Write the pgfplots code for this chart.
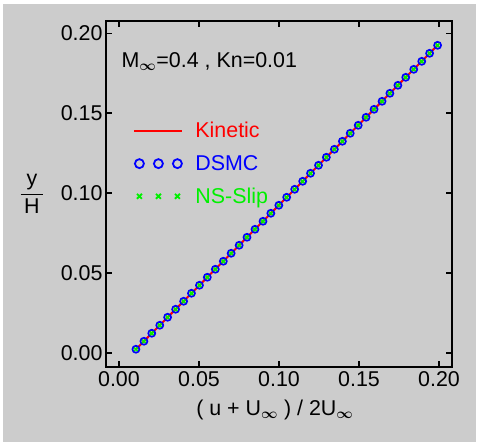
\documentclass[border=0pt]{standalone}
\usepackage{amsmath}
\usepackage{pgfplots}
\pgfplotsset{compat=1.18}
\usepackage{fontspec}
\setmainfont{Liberation Sans}
\definecolor{bggray}{RGB}{204,204,204}
\definecolor{kinred}{RGB}{255,0,0}
\definecolor{dsmcblue}{RGB}{0,0,255}
\definecolor{nsgreen}{RGB}{0,240,0}

\pgfplotsset{
  longline/.style={legend image code/.code={\draw[##1] (0bp,0bp) -- (48bp,0bp);}},
  threemarks/.style={legend image code/.code={\draw[##1] plot coordinates {(5bp,0bp) (24bp,0bp) (43bp,0bp)};}},
}

\pgfplotstableread{
x y
0.0106 0.0025
0.0156 0.0075
0.0205 0.0125
0.0255 0.0175
0.0304 0.0225
0.0354 0.0275
0.0404 0.0325
0.0453 0.0375
0.0503 0.0425
0.0552 0.0475
0.0602 0.0525
0.0652 0.0575
0.0701 0.0625
0.0751 0.0675
0.0800 0.0725
0.0850 0.0775
0.0900 0.0825
0.0949 0.0875
0.0999 0.0925
0.1048 0.0975
0.1098 0.1025
0.1148 0.1075
0.1197 0.1125
0.1247 0.1175
0.1296 0.1225
0.1346 0.1275
0.1396 0.1325
0.1445 0.1375
0.1495 0.1425
0.1544 0.1475
0.1594 0.1525
0.1644 0.1575
0.1693 0.1625
0.1743 0.1675
0.1792 0.1725
0.1842 0.1775
0.1892 0.1825
0.1941 0.1875
0.1991 0.1925
}\profile

\newcommand{\uinf}{\textsubscript{\boldmath$\infty$}}
\newcommand{\bigfont}{\fontsize{21.5}{25}\selectfont}
\newcommand{\tl}[1]{\mbox{\bigfont #1}}

\begin{document}
\begin{tikzpicture}
\fill[white] (0bp,0bp) rectangle (479bp,444bp);
\fill[bggray] (3bp,2bp) rectangle (476bp,440bp);
\useasboundingbox (0bp,0bp) rectangle (479bp,444bp);
\begin{axis}[
  at={(106bp,77bp)}, anchor=south west,
  scale only axis,
  width=346bp, height=346bp,
  font=\bigfont,
  tick label style={font=\bigfont},
  axis line style={line width=2bp},
  tick style={line width=1.6bp, black},
  tick align=inside,
  major tick length=6bp,
  xmin=-0.0081, xmax=0.2081,
  ymin=-0.0086, ymax=0.2077,
  xtick={0,0.05,0.10,0.15,0.20},
  ytick={0,0.05,0.10,0.15,0.20},
  xticklabels={\tl{0.00},\tl{0.05},\tl{0.10},\tl{0.15},\tl{0.20}},
  yticklabels={\tl{0.00},\tl{0.05},\tl{0.10},\tl{0.15},\tl{0.20}},
  xticklabel style={yshift=-1bp},
  xlabel={( u + U\uinf\ ) / 2U\uinf},
  xlabel style={at={(axis description cs:0.488,-0.124)}, anchor=center},
  ylabel={$\genfrac{}{}{0.8pt}{0}{\hbox{y}}{\hbox{\,H\,}}$},
  ylabel style={rotate=-90, at={(axis description cs:-0.214,0.5)}, anchor=center},
  legend style={draw=none, fill=none, at={(axis description cs:0.07,0.719)},
    anchor=north west, row sep=12bp,
    /tikz/every odd column/.append style={column sep=10bp}},
  legend cell align=left,
]
\addlegendimage{kinred, line width=2bp, longline}
\addlegendentry{\textcolor{kinred}{Kinetic}}
\addlegendimage{only marks, mark=o, dsmcblue, mark size=4.5bp, line width=1.8bp, threemarks}
\addlegendentry{\textcolor{dsmcblue}{DSMC}}
\addlegendimage{only marks, mark=x, nsgreen, mark size=3.5bp, line width=1.8bp, threemarks}
\addlegendentry{\textcolor{nsgreen}{NS-Slip}}

\addplot[forget plot, only marks, mark=o, dsmcblue, mark size=3.5bp, line width=1.7bp] table {\profile};
\addplot[forget plot, only marks, mark=x, nsgreen, mark size=2.5bp, line width=1.5bp] table {\profile};
\addplot[forget plot, kinred, line width=2bp] table {\profile};

\node[anchor=west] at (axis description cs:0.035,0.884) {M\uinf=0.4 , Kn=0.01};
\end{axis}
\end{tikzpicture}
\end{document}
